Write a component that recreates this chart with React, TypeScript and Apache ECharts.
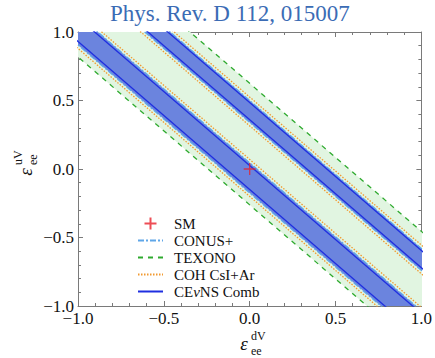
import React, { useEffect, useRef } from "react";
import * as echarts from "echarts";

const SERIF = "'Liberation Serif', 'DejaVu Serif', 'Times New Roman', serif";

// Axis range and tick labels (εdV on x, εuV on y)
const axisMin = -1;
const axisMax = 1;
const axisStep = 0.5;

// Contour edges, each edge given by two (εdV, εuV) points
// that lie outside the plot frame (the chart clips them).
const texonoEdges = [
  [[-1.3, 1.142], [1.3, -1.666]],
  [[-1.3, 2.029], [1.3, -0.779]],
];
const conusEdges = [
  [[-1.3, 1.229], [1.3, -1.579]],
  [[-1.3, 1.449], [1.3, -1.359]],
  [[-1.3, 1.744], [1.3, -1.064]],
  [[-1.3, 1.904], [1.3, -0.904]],
];
const cohEdges = [
  [[-1.3, 1.204], [1.3, -1.604]],
  [[-1.3, 1.474], [1.3, -1.334]],
  [[-1.3, 1.719], [1.3, -1.089]],
  [[-1.3, 1.929], [1.3, -0.879]],
];
const cevnsEdges = [
  [[-1.3, 1.254], [1.3, -1.554]],
  [[-1.3, 1.429], [1.3, -1.379]],
  [[-1.3, 1.764], [1.3, -1.044]],
  [[-1.3, 1.889], [1.3, -0.919]],
];
// Filled regions: pairs of edges
const texonoRegion = [[texonoEdges[0], texonoEdges[1]]];
const blueRegions = [
  [conusEdges[0], conusEdges[1]],
  [conusEdges[2], conusEdges[3]],
];
const smPoint = [[0, 0]];

const legendNames = ["SM", "CONUS+", "TEXONO", "COH CsI+Ar", "CEνNS Comb"];

const COLORS = {
  greenFill: "#e1f5e1",
  blueFill: "#6b84de",
  green: "#2eaa2e",
  lightBlue: "#5fa6e8",
  orange: "#f29a30",
  darkBlue: "#1f2fe0",
  red: "#e8202a",
  axis: "#7a7a7a",
  title: "#3b6cb5",
};

const fmt = (v: number) => v.toFixed(1).replace("-", "\u2212");

function regionSeries(regions: number[][][][], color: string, z: number) {
  return {
    type: "custom",
    silent: true,
    clip: true,
    z,
    data: regions.map(() => [0, 0]),
    renderItem: (params: any, api: any) => {
      const [lo, hi] = regions[params.dataIndex];
      const pts = [lo[0], lo[1], hi[1], hi[0]].map((p) => api.coord(p));
      return { type: "polygon", shape: { points: pts }, style: { fill: color } };
    },
  };
}

function edgeSeries(name: string, edges: number[][][], lineStyle: any, z: number) {
  return edges.map((e) => ({
    type: "line",
    name,
    data: e,
    symbol: "none",
    silent: true,
    clip: true,
    z,
    color: lineStyle.color,
    itemStyle: { color: lineStyle.color },
    lineStyle,
  }));
}

function axisName(text: string, sup: string, sub: string) {
  return [
    {
      type: "text",
      x: -6,
      y: -2,
      style: { text, fill: "#111", font: `italic 19px ${SERIF}`, align: "center", verticalAlign: "middle" },
    },
    {
      type: "text",
      x: 1,
      y: -9,
      style: { text: sup, fill: "#111", font: `12px ${SERIF}`, align: "left", verticalAlign: "middle" },
    },
    {
      type: "text",
      x: 1,
      y: 6,
      style: { text: sub, fill: "#111", font: `12px ${SERIF}`, align: "left", verticalAlign: "middle" },
    },
  ];
}

export default function App() {
  const ref = useRef<HTMLDivElement>(null);
  useEffect(() => {
    if (!ref.current) return;
    const chart = echarts.init(ref.current, undefined, { renderer: "svg" });
    const baseAxis = {
      type: "value",
      min: axisMin,
      max: axisMax,
      interval: axisStep,
      splitLine: { show: false },
      axisLine: { onZero: false, lineStyle: { color: COLORS.axis, width: 1 } },
      axisTick: { inside: true, length: 5, lineStyle: { color: COLORS.axis } },
      minorTick: { show: true, splitNumber: 5, length: 3, lineStyle: { color: COLORS.axis } },
    };
    const option: any = {
      animation: false,
      title: {
        text: "Phys. Rev. D 112, 015007",
        left: 110,
        top: 2,
        padding: 0,
        textStyle: { fontFamily: SERIF, fontSize: 23, fontWeight: "normal", color: COLORS.title },
      },
      grid: { left: 78, right: 12, top: 32, bottom: 52, containLabel: false },
      xAxis: [
        {
          ...baseAxis,
          position: "bottom",
          axisLabel: { fontFamily: SERIF, fontSize: 17, color: "#111", margin: 4, formatter: fmt, showMinLabel: true, showMaxLabel: true },
        },
        { ...baseAxis, position: "top", axisLabel: { show: false } },
      ],
      yAxis: [
        {
          ...baseAxis,
          position: "left",
          axisLabel: { fontFamily: SERIF, fontSize: 17, color: "#111", margin: 4, formatter: fmt, showMinLabel: true, showMaxLabel: true },
        },
        { ...baseAxis, position: "right", axisLabel: { show: false } },
      ],
      legend: {
        data: legendNames.map((n) => (n === "SM" ? { name: n } : { name: n, itemStyle: { opacity: 0 } })),
        orient: "vertical",
        left: 137,
        top: 215,
        padding: 0,
        itemWidth: 25,
        itemHeight: 12,
        itemGap: 0,
        formatter: (n: string) => n.replace("ν", "{i|ν}"),
        textStyle: {
          fontFamily: SERIF,
          fontSize: 15,
          lineHeight: 17,
          color: "#111",
          padding: [0, 0, 0, 6],
          rich: { i: { fontFamily: SERIF, fontSize: 15, lineHeight: 17, fontStyle: "italic", color: "#111" } },
        },
        selectedMode: false,
      },
      graphic: [
        { type: "group", x: 250, y: 345, children: axisName("ε", "dV", "ee") },
        { type: "group", x: 27, y: 166, rotation: Math.PI / 2, children: axisName("ε", "uV", "ee") },
      ],
      series: [
        regionSeries(texonoRegion, COLORS.greenFill, 1),
        regionSeries(blueRegions, COLORS.blueFill, 2),
        ...edgeSeries("COH CsI+Ar", cohEdges, { color: COLORS.orange, width: 1.3, type: [1.5, 1.5] }, 3),
        ...edgeSeries("CONUS+", conusEdges, { color: COLORS.lightBlue, width: 1.3, type: [6, 2, 2, 2] }, 4),
        ...edgeSeries("CEνNS Comb", cevnsEdges, { color: COLORS.darkBlue, width: 1.3, type: "solid" }, 5),
        ...edgeSeries("TEXONO", texonoEdges, { color: COLORS.green, width: 1.3, type: [5, 5] }, 6),
        {
          type: "scatter",
          name: "SM",
          data: smPoint,
          symbol: "path://M5,0L5,10M0,5L10,5",
          symbolSize: 12,
          silent: true,
          z: 10,
          itemStyle: { color: "rgba(0,0,0,0)", borderColor: COLORS.red, borderWidth: 1.3 },
        },
      ],
    };
    chart.setOption(option);
    return () => chart.dispose();
  }, []);
  return <div ref={ref} style={{ position: "absolute", left: 0, top: 0, width: 435, height: 358 }} />;
}
